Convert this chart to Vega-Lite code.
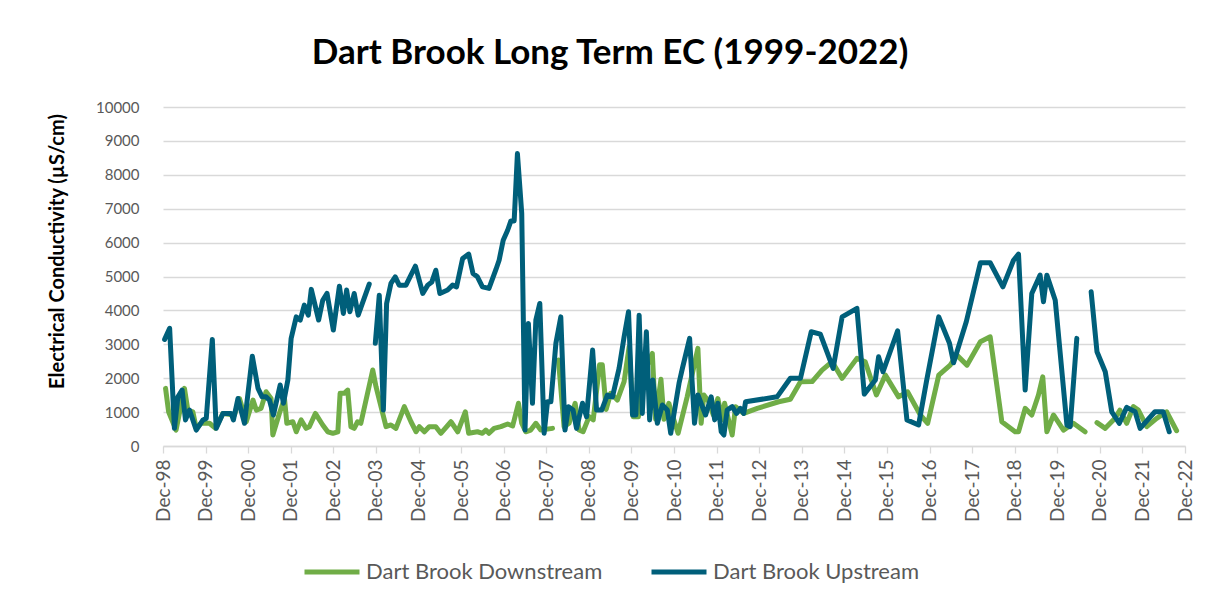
{
  "$schema": "https://vega.github.io/schema/vega-lite/v6.json",
  "width": 1022,
  "height": 339,
  "autosize": {"type": "none"},
  "padding": {"left": 163, "top": 107, "right": 26, "bottom": 160},
  "background": "white",
  "config": {
    "font": "Lato",
    "view": {"stroke": null}
  },
  "title": {
    "text": "Dart Brook Long Term EC (1999-2022)",
    "font": "Lato",
    "fontSize": 35,
    "fontWeight": "bold",
    "color": "#000000",
    "anchor": "middle",
    "dx": -64,
    "offset": 29
  },
  "data": {
    "values": [
      {"site": "Dart Brook Downstream", "date": "1998-12-23", "ec": 1700},
      {"site": "Dart Brook Downstream", "date": "1999-01-18", "ec": 1010},
      {"site": "Dart Brook Downstream", "date": "1999-03-23", "ec": 470},
      {"site": "Dart Brook Downstream", "date": "1999-06-03", "ec": 1700},
      {"site": "Dart Brook Downstream", "date": "1999-07-02", "ec": 1060},
      {"site": "Dart Brook Downstream", "date": "1999-08-14", "ec": 1010},
      {"site": "Dart Brook Downstream", "date": "1999-09-12", "ec": 520},
      {"site": "Dart Brook Downstream", "date": "1999-10-24", "ec": 670},
      {"site": "Dart Brook Downstream", "date": "2000-01-04", "ec": 670},
      {"site": "Dart Brook Downstream", "date": "2000-02-25", "ec": 520},
      {"site": "Dart Brook Downstream", "date": "2000-04-28", "ec": 960},
      {"site": "Dart Brook Downstream", "date": "2000-08-05", "ec": 915},
      {"site": "Dart Brook Downstream", "date": "2000-09-17", "ec": 1400},
      {"site": "Dart Brook Downstream", "date": "2000-11-14", "ec": 715},
      {"site": "Dart Brook Downstream", "date": "2001-01-11", "ec": 1355},
      {"site": "Dart Brook Downstream", "date": "2001-02-08", "ec": 1060},
      {"site": "Dart Brook Downstream", "date": "2001-03-21", "ec": 1110},
      {"site": "Dart Brook Downstream", "date": "2001-05-03", "ec": 1600},
      {"site": "Dart Brook Downstream", "date": "2001-06-15", "ec": 1400},
      {"site": "Dart Brook Downstream", "date": "2001-06-30", "ec": 325},
      {"site": "Dart Brook Downstream", "date": "2001-08-25", "ec": 960},
      {"site": "Dart Brook Downstream", "date": "2001-10-08", "ec": 1400},
      {"site": "Dart Brook Downstream", "date": "2001-10-28", "ec": 670},
      {"site": "Dart Brook Downstream", "date": "2001-12-19", "ec": 715},
      {"site": "Dart Brook Downstream", "date": "2002-01-17", "ec": 420},
      {"site": "Dart Brook Downstream", "date": "2002-02-28", "ec": 770},
      {"site": "Dart Brook Downstream", "date": "2002-04-11", "ec": 520},
      {"site": "Dart Brook Downstream", "date": "2002-05-09", "ec": 570},
      {"site": "Dart Brook Downstream", "date": "2002-06-30", "ec": 960},
      {"site": "Dart Brook Downstream", "date": "2002-09-01", "ec": 620},
      {"site": "Dart Brook Downstream", "date": "2002-10-14", "ec": 420},
      {"site": "Dart Brook Downstream", "date": "2002-11-27", "ec": 375},
      {"site": "Dart Brook Downstream", "date": "2003-01-09", "ec": 420},
      {"site": "Dart Brook Downstream", "date": "2003-01-28", "ec": 1555},
      {"site": "Dart Brook Downstream", "date": "2003-03-04", "ec": 1555},
      {"site": "Dart Brook Downstream", "date": "2003-04-03", "ec": 1650},
      {"site": "Dart Brook Downstream", "date": "2003-05-01", "ec": 570},
      {"site": "Dart Brook Downstream", "date": "2003-05-29", "ec": 520},
      {"site": "Dart Brook Downstream", "date": "2003-06-27", "ec": 715},
      {"site": "Dart Brook Downstream", "date": "2003-07-25", "ec": 670},
      {"site": "Dart Brook Downstream", "date": "2003-11-04", "ec": 2240},
      {"site": "Dart Brook Downstream", "date": "2003-12-02", "ec": 1750},
      {"site": "Dart Brook Downstream", "date": "2004-02-26", "ec": 570},
      {"site": "Dart Brook Downstream", "date": "2004-04-08", "ec": 620},
      {"site": "Dart Brook Downstream", "date": "2004-05-21", "ec": 520},
      {"site": "Dart Brook Downstream", "date": "2004-08-01", "ec": 1160},
      {"site": "Dart Brook Downstream", "date": "2004-09-27", "ec": 715},
      {"site": "Dart Brook Downstream", "date": "2004-11-10", "ec": 420},
      {"site": "Dart Brook Downstream", "date": "2004-12-08", "ec": 570},
      {"site": "Dart Brook Downstream", "date": "2005-01-20", "ec": 420},
      {"site": "Dart Brook Downstream", "date": "2005-03-02", "ec": 570},
      {"site": "Dart Brook Downstream", "date": "2005-04-28", "ec": 570},
      {"site": "Dart Brook Downstream", "date": "2005-06-10", "ec": 375},
      {"site": "Dart Brook Downstream", "date": "2005-09-05", "ec": 715},
      {"site": "Dart Brook Downstream", "date": "2005-11-02", "ec": 420},
      {"site": "Dart Brook Downstream", "date": "2006-01-06", "ec": 1010},
      {"site": "Dart Brook Downstream", "date": "2006-02-04", "ec": 375},
      {"site": "Dart Brook Downstream", "date": "2006-04-20", "ec": 420},
      {"site": "Dart Brook Downstream", "date": "2006-06-02", "ec": 375},
      {"site": "Dart Brook Downstream", "date": "2006-07-01", "ec": 470},
      {"site": "Dart Brook Downstream", "date": "2006-07-28", "ec": 375},
      {"site": "Dart Brook Downstream", "date": "2006-09-10", "ec": 520},
      {"site": "Dart Brook Downstream", "date": "2006-11-07", "ec": 570},
      {"site": "Dart Brook Downstream", "date": "2007-01-04", "ec": 650},
      {"site": "Dart Brook Downstream", "date": "2007-02-16", "ec": 590},
      {"site": "Dart Brook Downstream", "date": "2007-04-07", "ec": 1260},
      {"site": "Dart Brook Downstream", "date": "2007-05-05", "ec": 670},
      {"site": "Dart Brook Downstream", "date": "2007-06-08", "ec": 420},
      {"site": "Dart Brook Downstream", "date": "2007-07-21", "ec": 470},
      {"site": "Dart Brook Downstream", "date": "2007-09-03", "ec": 670},
      {"site": "Dart Brook Downstream", "date": "2007-10-15", "ec": 470},
      {"site": "Dart Brook Downstream", "date": "2008-01-24", "ec": 520},
      {"site": "Dart Brook Downstream", "date": "2008-02-20", "ec": null},
      {"site": "Dart Brook Downstream", "date": "2008-03-15", "ec": 2535},
      {"site": "Dart Brook Downstream", "date": "2008-05-02", "ec": 570},
      {"site": "Dart Brook Downstream", "date": "2008-06-14", "ec": 670},
      {"site": "Dart Brook Downstream", "date": "2008-08-05", "ec": 1260},
      {"site": "Dart Brook Downstream", "date": "2008-09-08", "ec": 470},
      {"site": "Dart Brook Downstream", "date": "2008-10-12", "ec": 420},
      {"site": "Dart Brook Downstream", "date": "2008-12-03", "ec": 865},
      {"site": "Dart Brook Downstream", "date": "2009-01-07", "ec": 770},
      {"site": "Dart Brook Downstream", "date": "2009-03-03", "ec": 2400},
      {"site": "Dart Brook Downstream", "date": "2009-03-26", "ec": 2400},
      {"site": "Dart Brook Downstream", "date": "2009-04-28", "ec": 1080},
      {"site": "Dart Brook Downstream", "date": "2009-06-06", "ec": 1555},
      {"site": "Dart Brook Downstream", "date": "2009-08-02", "ec": 1355},
      {"site": "Dart Brook Downstream", "date": "2009-09-29", "ec": 1900},
      {"site": "Dart Brook Downstream", "date": "2009-11-11", "ec": 2925},
      {"site": "Dart Brook Downstream", "date": "2009-12-15", "ec": 865},
      {"site": "Dart Brook Downstream", "date": "2010-01-30", "ec": 865},
      {"site": "Dart Brook Downstream", "date": "2010-03-04", "ec": 2040},
      {"site": "Dart Brook Downstream", "date": "2010-05-29", "ec": 2730},
      {"site": "Dart Brook Downstream", "date": "2010-06-26", "ec": 790},
      {"site": "Dart Brook Downstream", "date": "2010-08-11", "ec": 1970},
      {"site": "Dart Brook Downstream", "date": "2010-09-06", "ec": 790},
      {"site": "Dart Brook Downstream", "date": "2010-10-18", "ec": 1260},
      {"site": "Dart Brook Downstream", "date": "2010-11-03", "ec": 1060},
      {"site": "Dart Brook Downstream", "date": "2011-01-05", "ec": 375},
      {"site": "Dart Brook Downstream", "date": "2011-03-24", "ec": 1450},
      {"site": "Dart Brook Downstream", "date": "2011-06-24", "ec": 2880},
      {"site": "Dart Brook Downstream", "date": "2011-07-22", "ec": 670},
      {"site": "Dart Brook Downstream", "date": "2011-08-14", "ec": 1505},
      {"site": "Dart Brook Downstream", "date": "2011-09-26", "ec": 1305},
      {"site": "Dart Brook Downstream", "date": "2011-11-03", "ec": 915},
      {"site": "Dart Brook Downstream", "date": "2011-12-12", "ec": 1400},
      {"site": "Dart Brook Downstream", "date": "2012-01-19", "ec": 770},
      {"site": "Dart Brook Downstream", "date": "2012-02-08", "ec": 1260},
      {"site": "Dart Brook Downstream", "date": "2012-04-13", "ec": 325},
      {"site": "Dart Brook Downstream", "date": "2012-05-12", "ec": 1160},
      {"site": "Dart Brook Downstream", "date": "2012-07-21", "ec": 960},
      {"site": "Dart Brook Downstream", "date": "2012-11-14", "ec": 1110},
      {"site": "Dart Brook Downstream", "date": "2013-05-17", "ec": 1305},
      {"site": "Dart Brook Downstream", "date": "2013-08-25", "ec": 1380},
      {"site": "Dart Brook Downstream", "date": "2013-11-20", "ec": 1895},
      {"site": "Dart Brook Downstream", "date": "2014-02-28", "ec": 1900},
      {"site": "Dart Brook Downstream", "date": "2014-05-24", "ec": 2240},
      {"site": "Dart Brook Downstream", "date": "2014-08-18", "ec": 2485},
      {"site": "Dart Brook Downstream", "date": "2014-11-12", "ec": 1995},
      {"site": "Dart Brook Downstream", "date": "2015-03-19", "ec": 2585},
      {"site": "Dart Brook Downstream", "date": "2015-05-29", "ec": 2485},
      {"site": "Dart Brook Downstream", "date": "2015-09-02", "ec": 1505},
      {"site": "Dart Brook Downstream", "date": "2015-11-18", "ec": 2090},
      {"site": "Dart Brook Downstream", "date": "2016-03-10", "ec": 1450},
      {"site": "Dart Brook Downstream", "date": "2016-05-26", "ec": 1600},
      {"site": "Dart Brook Downstream", "date": "2016-09-13", "ec": 915},
      {"site": "Dart Brook Downstream", "date": "2016-11-15", "ec": 670},
      {"site": "Dart Brook Downstream", "date": "2017-02-18", "ec": 2090},
      {"site": "Dart Brook Downstream", "date": "2017-05-27", "ec": 2385},
      {"site": "Dart Brook Downstream", "date": "2017-07-23", "ec": 2680},
      {"site": "Dart Brook Downstream", "date": "2017-10-18", "ec": 2385},
      {"site": "Dart Brook Downstream", "date": "2018-02-10", "ec": 3075},
      {"site": "Dart Brook Downstream", "date": "2018-05-05", "ec": 3220},
      {"site": "Dart Brook Downstream", "date": "2018-08-13", "ec": 715},
      {"site": "Dart Brook Downstream", "date": "2018-12-05", "ec": 420},
      {"site": "Dart Brook Downstream", "date": "2019-01-03", "ec": 420},
      {"site": "Dart Brook Downstream", "date": "2019-03-01", "ec": 1110},
      {"site": "Dart Brook Downstream", "date": "2019-04-27", "ec": 915},
      {"site": "Dart Brook Downstream", "date": "2019-06-23", "ec": 1505},
      {"site": "Dart Brook Downstream", "date": "2019-07-30", "ec": 2040},
      {"site": "Dart Brook Downstream", "date": "2019-09-03", "ec": 420},
      {"site": "Dart Brook Downstream", "date": "2019-10-30", "ec": 915},
      {"site": "Dart Brook Downstream", "date": "2020-01-24", "ec": 470},
      {"site": "Dart Brook Downstream", "date": "2020-04-18", "ec": 670},
      {"site": "Dart Brook Downstream", "date": "2020-07-27", "ec": 420},
      {"site": "Dart Brook Downstream", "date": "2020-09-15", "ec": null},
      {"site": "Dart Brook Downstream", "date": "2020-11-06", "ec": 690},
      {"site": "Dart Brook Downstream", "date": "2021-01-16", "ec": 520},
      {"site": "Dart Brook Downstream", "date": "2021-04-10", "ec": 815},
      {"site": "Dart Brook Downstream", "date": "2021-05-22", "ec": 1060},
      {"site": "Dart Brook Downstream", "date": "2021-07-19", "ec": 670},
      {"site": "Dart Brook Downstream", "date": "2021-09-14", "ec": 1160},
      {"site": "Dart Brook Downstream", "date": "2021-10-27", "ec": 1060},
      {"site": "Dart Brook Downstream", "date": "2022-01-07", "ec": 570},
      {"site": "Dart Brook Downstream", "date": "2022-04-02", "ec": 815},
      {"site": "Dart Brook Downstream", "date": "2022-06-26", "ec": 1010},
      {"site": "Dart Brook Downstream", "date": "2022-09-20", "ec": 450},

      {"site": "Dart Brook Upstream", "date": "1998-12-15", "ec": 3145},
      {"site": "Dart Brook Upstream", "date": "1999-01-27", "ec": 3470},
      {"site": "Dart Brook Upstream", "date": "1999-03-09", "ec": 520},
      {"site": "Dart Brook Upstream", "date": "1999-04-08", "ec": 1450},
      {"site": "Dart Brook Upstream", "date": "1999-05-14", "ec": 1650},
      {"site": "Dart Brook Upstream", "date": "1999-06-12", "ec": 770},
      {"site": "Dart Brook Upstream", "date": "1999-07-16", "ec": 1060},
      {"site": "Dart Brook Upstream", "date": "1999-09-12", "ec": 470},
      {"site": "Dart Brook Upstream", "date": "1999-11-09", "ec": 770},
      {"site": "Dart Brook Upstream", "date": "1999-12-07", "ec": 815},
      {"site": "Dart Brook Upstream", "date": "2000-01-28", "ec": 3145},
      {"site": "Dart Brook Upstream", "date": "2000-03-01", "ec": 520},
      {"site": "Dart Brook Upstream", "date": "2000-04-28", "ec": 960},
      {"site": "Dart Brook Upstream", "date": "2000-07-08", "ec": 960},
      {"site": "Dart Brook Upstream", "date": "2000-07-27", "ec": 770},
      {"site": "Dart Brook Upstream", "date": "2000-09-04", "ec": 1400},
      {"site": "Dart Brook Upstream", "date": "2000-10-30", "ec": 670},
      {"site": "Dart Brook Upstream", "date": "2001-01-05", "ec": 2650},
      {"site": "Dart Brook Upstream", "date": "2001-02-23", "ec": 1700},
      {"site": "Dart Brook Upstream", "date": "2001-03-30", "ec": 1450},
      {"site": "Dart Brook Upstream", "date": "2001-05-03", "ec": 1450},
      {"site": "Dart Brook Upstream", "date": "2001-06-01", "ec": 1355},
      {"site": "Dart Brook Upstream", "date": "2001-07-05", "ec": 915},
      {"site": "Dart Brook Upstream", "date": "2001-09-01", "ec": 1800},
      {"site": "Dart Brook Upstream", "date": "2001-09-29", "ec": 1260},
      {"site": "Dart Brook Upstream", "date": "2001-11-06", "ec": 1945},
      {"site": "Dart Brook Upstream", "date": "2001-12-04", "ec": 3170},
      {"site": "Dart Brook Upstream", "date": "2002-01-17", "ec": 3810},
      {"site": "Dart Brook Upstream", "date": "2002-02-20", "ec": 3715},
      {"site": "Dart Brook Upstream", "date": "2002-03-27", "ec": 4155},
      {"site": "Dart Brook Upstream", "date": "2002-04-30", "ec": 3860},
      {"site": "Dart Brook Upstream", "date": "2002-05-26", "ec": 4620},
      {"site": "Dart Brook Upstream", "date": "2002-07-28", "ec": 3715},
      {"site": "Dart Brook Upstream", "date": "2002-09-01", "ec": 4300},
      {"site": "Dart Brook Upstream", "date": "2002-10-08", "ec": 4500},
      {"site": "Dart Brook Upstream", "date": "2002-12-01", "ec": 3420},
      {"site": "Dart Brook Upstream", "date": "2003-01-22", "ec": 4715},
      {"site": "Dart Brook Upstream", "date": "2003-02-25", "ec": 3910},
      {"site": "Dart Brook Upstream", "date": "2003-03-25", "ec": 4600},
      {"site": "Dart Brook Upstream", "date": "2003-04-22", "ec": 3960},
      {"site": "Dart Brook Upstream", "date": "2003-05-29", "ec": 4500},
      {"site": "Dart Brook Upstream", "date": "2003-07-02", "ec": 3860},
      {"site": "Dart Brook Upstream", "date": "2003-10-05", "ec": 4775},
      {"site": "Dart Brook Upstream", "date": "2003-11-01", "ec": null},
      {"site": "Dart Brook Upstream", "date": "2003-11-26", "ec": 3030},
      {"site": "Dart Brook Upstream", "date": "2003-12-30", "ec": 4450},
      {"site": "Dart Brook Upstream", "date": "2004-02-03", "ec": 1060},
      {"site": "Dart Brook Upstream", "date": "2004-03-02", "ec": 4205},
      {"site": "Dart Brook Upstream", "date": "2004-04-08", "ec": 4795},
      {"site": "Dart Brook Upstream", "date": "2004-05-15", "ec": 4990},
      {"site": "Dart Brook Upstream", "date": "2004-06-18", "ec": 4745},
      {"site": "Dart Brook Upstream", "date": "2004-08-15", "ec": 4745},
      {"site": "Dart Brook Upstream", "date": "2004-09-19", "ec": 4990},
      {"site": "Dart Brook Upstream", "date": "2004-11-04", "ec": 5305},
      {"site": "Dart Brook Upstream", "date": "2005-01-06", "ec": 4500},
      {"site": "Dart Brook Upstream", "date": "2005-02-18", "ec": 4745},
      {"site": "Dart Brook Upstream", "date": "2005-03-25", "ec": 4840},
      {"site": "Dart Brook Upstream", "date": "2005-04-28", "ec": 5185},
      {"site": "Dart Brook Upstream", "date": "2005-06-02", "ec": 4500},
      {"site": "Dart Brook Upstream", "date": "2005-08-07", "ec": 4600},
      {"site": "Dart Brook Upstream", "date": "2005-09-19", "ec": 4745},
      {"site": "Dart Brook Upstream", "date": "2005-10-23", "ec": 4695},
      {"site": "Dart Brook Upstream", "date": "2005-12-14", "ec": 5530},
      {"site": "Dart Brook Upstream", "date": "2006-02-04", "ec": 5660},
      {"site": "Dart Brook Upstream", "date": "2006-03-13", "ec": 5090},
      {"site": "Dart Brook Upstream", "date": "2006-04-20", "ec": 4990},
      {"site": "Dart Brook Upstream", "date": "2006-06-02", "ec": 4695},
      {"site": "Dart Brook Upstream", "date": "2006-07-28", "ec": 4650},
      {"site": "Dart Brook Upstream", "date": "2006-09-25", "ec": 5200},
      {"site": "Dart Brook Upstream", "date": "2006-10-23", "ec": 5480},
      {"site": "Dart Brook Upstream", "date": "2006-11-27", "ec": 6070},
      {"site": "Dart Brook Upstream", "date": "2007-01-04", "ec": 6365},
      {"site": "Dart Brook Upstream", "date": "2007-02-01", "ec": 6640},
      {"site": "Dart Brook Upstream", "date": "2007-03-01", "ec": 6640},
      {"site": "Dart Brook Upstream", "date": "2007-03-29", "ec": 8625},
      {"site": "Dart Brook Upstream", "date": "2007-05-05", "ec": 6860},
      {"site": "Dart Brook Upstream", "date": "2007-06-02", "ec": 470},
      {"site": "Dart Brook Upstream", "date": "2007-07-01", "ec": 3615},
      {"site": "Dart Brook Upstream", "date": "2007-08-05", "ec": 1260},
      {"site": "Dart Brook Upstream", "date": "2007-09-03", "ec": 3715},
      {"site": "Dart Brook Upstream", "date": "2007-10-07", "ec": 4205},
      {"site": "Dart Brook Upstream", "date": "2007-11-13", "ec": 375},
      {"site": "Dart Brook Upstream", "date": "2007-12-12", "ec": 1305},
      {"site": "Dart Brook Upstream", "date": "2008-01-10", "ec": 1305},
      {"site": "Dart Brook Upstream", "date": "2008-02-22", "ec": 3030},
      {"site": "Dart Brook Upstream", "date": "2008-04-04", "ec": 3810},
      {"site": "Dart Brook Upstream", "date": "2008-05-10", "ec": 470},
      {"site": "Dart Brook Upstream", "date": "2008-06-09", "ec": 1160},
      {"site": "Dart Brook Upstream", "date": "2008-07-18", "ec": 1060},
      {"site": "Dart Brook Upstream", "date": "2008-08-17", "ec": 520},
      {"site": "Dart Brook Upstream", "date": "2008-10-07", "ec": 1260},
      {"site": "Dart Brook Upstream", "date": "2008-11-11", "ec": 865},
      {"site": "Dart Brook Upstream", "date": "2009-01-02", "ec": 2830},
      {"site": "Dart Brook Upstream", "date": "2009-02-05", "ec": 1060},
      {"site": "Dart Brook Upstream", "date": "2009-03-21", "ec": 1060},
      {"site": "Dart Brook Upstream", "date": "2009-05-09", "ec": 1505},
      {"site": "Dart Brook Upstream", "date": "2009-06-21", "ec": 1450},
      {"site": "Dart Brook Upstream", "date": "2009-08-17", "ec": 2290},
      {"site": "Dart Brook Upstream", "date": "2009-09-29", "ec": 3220},
      {"site": "Dart Brook Upstream", "date": "2009-11-06", "ec": 3960},
      {"site": "Dart Brook Upstream", "date": "2009-12-10", "ec": 915},
      {"site": "Dart Brook Upstream", "date": "2010-01-08", "ec": 915},
      {"site": "Dart Brook Upstream", "date": "2010-02-05", "ec": 3860},
      {"site": "Dart Brook Upstream", "date": "2010-03-04", "ec": 960},
      {"site": "Dart Brook Upstream", "date": "2010-04-08", "ec": 3370},
      {"site": "Dart Brook Upstream", "date": "2010-05-06", "ec": 770},
      {"site": "Dart Brook Upstream", "date": "2010-06-03", "ec": 1945},
      {"site": "Dart Brook Upstream", "date": "2010-07-11", "ec": 670},
      {"site": "Dart Brook Upstream", "date": "2010-08-23", "ec": 1210},
      {"site": "Dart Brook Upstream", "date": "2010-10-05", "ec": 1060},
      {"site": "Dart Brook Upstream", "date": "2010-11-03", "ec": 375},
      {"site": "Dart Brook Upstream", "date": "2011-01-13", "ec": 1850},
      {"site": "Dart Brook Upstream", "date": "2011-02-11", "ec": 2290},
      {"site": "Dart Brook Upstream", "date": "2011-04-14", "ec": 3175},
      {"site": "Dart Brook Upstream", "date": "2011-05-26", "ec": 670},
      {"site": "Dart Brook Upstream", "date": "2011-06-24", "ec": 1505},
      {"site": "Dart Brook Upstream", "date": "2011-08-29", "ec": 915},
      {"site": "Dart Brook Upstream", "date": "2011-10-16", "ec": 1450},
      {"site": "Dart Brook Upstream", "date": "2011-11-15", "ec": 770},
      {"site": "Dart Brook Upstream", "date": "2011-12-12", "ec": 1260},
      {"site": "Dart Brook Upstream", "date": "2012-01-10", "ec": 420},
      {"site": "Dart Brook Upstream", "date": "2012-02-02", "ec": 325},
      {"site": "Dart Brook Upstream", "date": "2012-03-01", "ec": 1060},
      {"site": "Dart Brook Upstream", "date": "2012-04-13", "ec": 1160},
      {"site": "Dart Brook Upstream", "date": "2012-05-20", "ec": 960},
      {"site": "Dart Brook Upstream", "date": "2012-06-23", "ec": 1110},
      {"site": "Dart Brook Upstream", "date": "2012-07-21", "ec": 960},
      {"site": "Dart Brook Upstream", "date": "2012-08-06", "ec": 1305},
      {"site": "Dart Brook Upstream", "date": "2013-05-03", "ec": 1450},
      {"site": "Dart Brook Upstream", "date": "2013-08-25", "ec": 2000},
      {"site": "Dart Brook Upstream", "date": "2013-11-20", "ec": 2000},
      {"site": "Dart Brook Upstream", "date": "2014-02-20", "ec": 3370},
      {"site": "Dart Brook Upstream", "date": "2014-05-09", "ec": 3300},
      {"site": "Dart Brook Upstream", "date": "2014-08-27", "ec": 2290},
      {"site": "Dart Brook Upstream", "date": "2014-11-12", "ec": 3810},
      {"site": "Dart Brook Upstream", "date": "2015-03-19", "ec": 4060},
      {"site": "Dart Brook Upstream", "date": "2015-05-21", "ec": 1530},
      {"site": "Dart Brook Upstream", "date": "2015-08-24", "ec": 1945},
      {"site": "Dart Brook Upstream", "date": "2015-09-21", "ec": 2630},
      {"site": "Dart Brook Upstream", "date": "2015-10-29", "ec": 2190},
      {"site": "Dart Brook Upstream", "date": "2016-03-02", "ec": 3400},
      {"site": "Dart Brook Upstream", "date": "2016-05-21", "ec": 770},
      {"site": "Dart Brook Upstream", "date": "2016-08-29", "ec": 620},
      {"site": "Dart Brook Upstream", "date": "2016-11-04", "ec": 1895},
      {"site": "Dart Brook Upstream", "date": "2017-02-18", "ec": 3810},
      {"site": "Dart Brook Upstream", "date": "2017-05-21", "ec": 3030},
      {"site": "Dart Brook Upstream", "date": "2017-06-25", "ec": 2455},
      {"site": "Dart Brook Upstream", "date": "2017-10-12", "ec": 3665},
      {"site": "Dart Brook Upstream", "date": "2018-02-10", "ec": 5405},
      {"site": "Dart Brook Upstream", "date": "2018-05-05", "ec": 5405},
      {"site": "Dart Brook Upstream", "date": "2018-08-22", "ec": 4695},
      {"site": "Dart Brook Upstream", "date": "2018-11-21", "ec": 5480},
      {"site": "Dart Brook Upstream", "date": "2019-01-03", "ec": 5660},
      {"site": "Dart Brook Upstream", "date": "2019-03-01", "ec": 1650},
      {"site": "Dart Brook Upstream", "date": "2019-04-27", "ec": 4500},
      {"site": "Dart Brook Upstream", "date": "2019-07-07", "ec": 5040},
      {"site": "Dart Brook Upstream", "date": "2019-08-05", "ec": 4255},
      {"site": "Dart Brook Upstream", "date": "2019-09-03", "ec": 5040},
      {"site": "Dart Brook Upstream", "date": "2019-11-14", "ec": 4300},
      {"site": "Dart Brook Upstream", "date": "2020-02-22", "ec": 620},
      {"site": "Dart Brook Upstream", "date": "2020-03-21", "ec": 570},
      {"site": "Dart Brook Upstream", "date": "2020-05-17", "ec": 3175},
      {"site": "Dart Brook Upstream", "date": "2020-07-15", "ec": null},
      {"site": "Dart Brook Upstream", "date": "2020-09-17", "ec": 4550},
      {"site": "Dart Brook Upstream", "date": "2020-11-06", "ec": 2780},
      {"site": "Dart Brook Upstream", "date": "2021-01-16", "ec": 2190},
      {"site": "Dart Brook Upstream", "date": "2021-03-13", "ec": 1010},
      {"site": "Dart Brook Upstream", "date": "2021-05-17", "ec": 670},
      {"site": "Dart Brook Upstream", "date": "2021-07-19", "ec": 1140},
      {"site": "Dart Brook Upstream", "date": "2021-09-29", "ec": 1010},
      {"site": "Dart Brook Upstream", "date": "2021-11-11", "ec": 520},
      {"site": "Dart Brook Upstream", "date": "2022-03-18", "ec": 1010},
      {"site": "Dart Brook Upstream", "date": "2022-05-28", "ec": 1010},
      {"site": "Dart Brook Upstream", "date": "2022-07-19", "ec": 420}
    ]
  },
  "mark": {
    "type": "line",
    "strokeWidth": 5,
    "strokeJoin": "round",
    "strokeCap": "round",
    "invalid": "break-paths-show-domains"
  },
  "encoding": {
    "x": {
      "field": "date",
      "type": "temporal",
      "scale": {
        "domain": [
          {"year": 1998, "month": 12, "date": 1},
          {"year": 2022, "month": 12, "date": 1}
        ]
      },
      "axis": {
        "title": null,
        "format": "%b-%y",
        "values": [
          {"year": 1998, "month": 12, "date": 1},
          {"year": 1999, "month": 12, "date": 1},
          {"year": 2000, "month": 12, "date": 1},
          {"year": 2001, "month": 12, "date": 1},
          {"year": 2002, "month": 12, "date": 1},
          {"year": 2003, "month": 12, "date": 1},
          {"year": 2004, "month": 12, "date": 1},
          {"year": 2005, "month": 12, "date": 1},
          {"year": 2006, "month": 12, "date": 1},
          {"year": 2007, "month": 12, "date": 1},
          {"year": 2008, "month": 12, "date": 1},
          {"year": 2009, "month": 12, "date": 1},
          {"year": 2010, "month": 12, "date": 1},
          {"year": 2011, "month": 12, "date": 1},
          {"year": 2012, "month": 12, "date": 1},
          {"year": 2013, "month": 12, "date": 1},
          {"year": 2014, "month": 12, "date": 1},
          {"year": 2015, "month": 12, "date": 1},
          {"year": 2016, "month": 12, "date": 1},
          {"year": 2017, "month": 12, "date": 1},
          {"year": 2018, "month": 12, "date": 1},
          {"year": 2019, "month": 12, "date": 1},
          {"year": 2020, "month": 12, "date": 1},
          {"year": 2021, "month": 12, "date": 1},
          {"year": 2022, "month": 12, "date": 1}
        ],
        "labelAngle": -90,
        "labelAlign": "right",
        "labelBaseline": "middle",
        "labelFont": "Lato",
        "labelFontSize": 19,
        "labelColor": "#595959",
        "labelPadding": 6,
        "labelOverlap": false,
        "labelFlush": false,
        "grid": false,
        "domainColor": "#D9D9D9",
        "domainWidth": 1.3,
        "tickColor": "#D9D9D9",
        "tickWidth": 1.3,
        "tickSize": 7
      }
    },
    "y": {
      "field": "ec",
      "type": "quantitative",
      "scale": {"domain": [0, 10000], "nice": false},
      "axis": {
        "title": "Electrical Conductivity (µS/cm)",
        "titleFont": "Lato",
        "titleFontSize": 20,
        "titleFontWeight": "bold",
        "titleColor": "#000000",
        "titleX": -106,
        "titleY": 144,
        "titleAnchor": "middle",
        "titleAlign": "center",
        "titleBaseline": "middle",
        "values": [0, 1000, 2000, 3000, 4000, 5000, 6000, 7000, 8000, 9000, 10000],
        "format": "d",
        "labelFont": "Lato",
        "labelFontSize": 15,
        "labelColor": "#595959",
        "labelPadding": 24,
        "ticks": false,
        "domain": false,
        "grid": true,
        "gridColor": "#D9D9D9",
        "gridWidth": 1.3
      }
    },
    "color": {
      "field": "site",
      "type": "nominal",
      "scale": {
        "domain": ["Dart Brook Downstream", "Dart Brook Upstream"],
        "range": ["#70AD47", "#005F7A"]
      },
      "legend": {
        "title": null,
        "orient": "none",
        "legendX": 139,
        "legendY": 435,
        "direction": "horizontal",
        "symbolType": "stroke",
        "symbolSize": 3025,
        "symbolStrokeWidth": 5,
        "labelFont": "Lato",
        "labelFontSize": 22,
        "labelLimit": 0,
        "labelColor": "#595959",
        "labelOffset": 4,
        "columnPadding": 38
      }
    }
  }
}
